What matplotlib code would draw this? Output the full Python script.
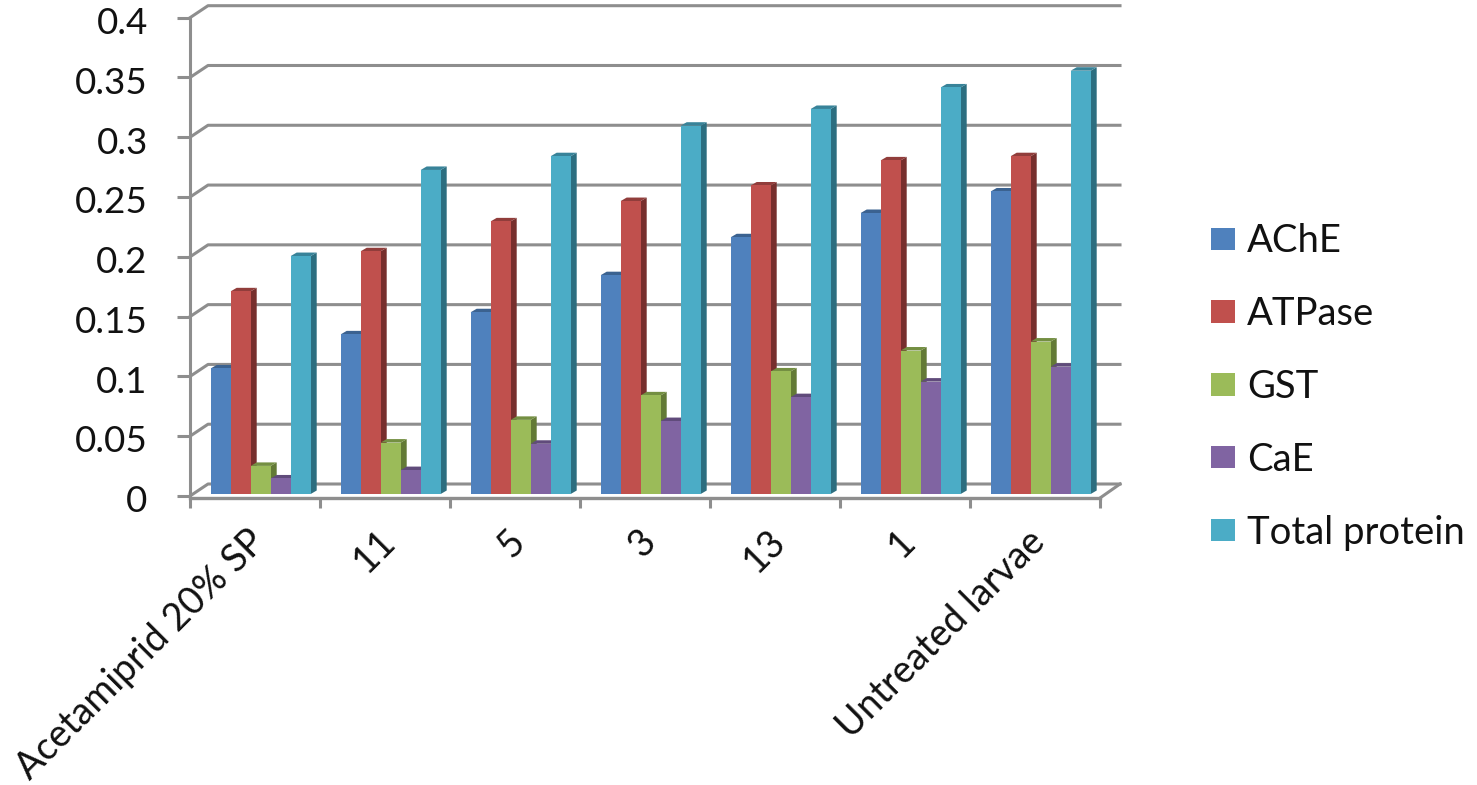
import matplotlib
matplotlib.use("Agg")
import matplotlib.pyplot as plt
from matplotlib.patches import Patch, Polygon
from matplotlib.ticker import FixedLocator
from matplotlib.transforms import ScaledTranslation

plt.rcParams["font.family"] = ["Lato", "DejaVu Sans"]

categories = ["Acetamiprid 20% SP", "11", "5", "3", "13", "1", "Untreated larvae"]
y_ticks = [0, 0.05, 0.1, 0.15, 0.2, 0.25, 0.3, 0.35, 0.4]
y_tick_labels = ["0", "0.05", "0.1", "0.15", "0.2", "0.25", "0.3", "0.35", "0.4"]

ache = [0.105, 0.1335, 0.152, 0.183, 0.2147, 0.235, 0.253]
atpase = [0.1695, 0.203, 0.228, 0.245, 0.258, 0.279, 0.2825]
gst = [0.0235, 0.043, 0.062, 0.0825, 0.1025, 0.12, 0.1275]
cae = [0.013, 0.02, 0.042, 0.061, 0.081, 0.094, 0.1065]
total_protein = [0.199, 0.271, 0.2825, 0.308, 0.322, 0.34, 0.354]

series_names = ["AChE", "ATPase", "GST", "CaE", "Total protein"]
series_values = [ache, atpase, gst, cae, total_protein]
front_colors = ["#4F81BD", "#C0504D", "#9BBB59", "#8064A2", "#4BACC6"]
side_colors = ["#2F4E73", "#772F2D", "#637A36", "#4E3D64", "#2C6E80"]
top_colors = ["#3B6290", "#913D3B", "#748F42", "#604B7B", "#388399"]

GRID = "#8E8E8E"
FIG_W, FIG_H = 1477, 785
LEFT, RIGHT, Y0, Y_TOP = 190, 1100, 496, 17.7

fig = plt.figure(figsize=(FIG_W / 100, FIG_H / 100), dpi=100)
ax = fig.add_axes([LEFT / FIG_W, 1 - Y0 / FIG_H, (RIGHT - LEFT) / FIG_W, (Y0 - Y_TOP) / FIG_H])
ax.set_xlim(0, len(categories))
ax.set_ylim(0, 0.4)
ax.patch.set_alpha(0)

# pixel sizes in data units, for the fake 3D look
px_x = len(categories) / (RIGHT - LEFT)
px_y = 0.4 / (Y0 - Y_TOP)
wall_dx, wall_dy = 18 * px_x, 12 * px_y
floor_drop = 2 * px_y

# back wall grid and the slanted bits on the left wall
for tick in y_ticks:
    ax.plot([0, wall_dx, len(categories) + wall_dx + 2 * px_x],
            [tick, tick + wall_dy, tick + wall_dy],
            color=GRID, lw=2.2, clip_on=False, zorder=1)

# floor
ax.plot([len(categories), len(categories) + wall_dx + 2 * px_x],
        [-floor_drop, wall_dy], color=GRID, lw=2.2, clip_on=False, zorder=1)

# bars
bar_w = 20 * px_x
depth_x, depth_y = 6 * px_x, 3.5 * px_y
group_start = 20.7 * px_x
base = 2 * px_y
for s, values in enumerate(series_values):
    for i, v in enumerate(values):
        x0 = i + group_start + s * bar_w
        x1 = x0 + bar_w
        top = v + base
        ax.add_patch(Polygon([(x1, base), (x1, top), (x1 + depth_x, top + depth_y), (x1 + depth_x, base + depth_y)],
                             facecolor=side_colors[s], edgecolor="none", zorder=3 + s, clip_on=False))
        ax.add_patch(Polygon([(x0, top), (x1, top), (x1 + depth_x, top + depth_y), (x0 + depth_x, top + depth_y)],
                             facecolor=top_colors[s], edgecolor="none", zorder=3 + s, clip_on=False))
    ax.bar([i + group_start + s * bar_w for i in range(len(values))], values, width=bar_w, bottom=base,
           align="edge", color=front_colors[s], zorder=3 + s, clip_on=False)

for name in ["top", "right"]:
    ax.spines[name].set_visible(False)
ax.spines["left"].set_color(GRID)
ax.spines["left"].set_linewidth(2.2)
ax.spines["bottom"].set_color(GRID)
ax.spines["bottom"].set_linewidth(2.4)
ax.spines["bottom"].set_position(("outward", 1.5))
ax.spines["bottom"].set_zorder(10)

ax.set_yticks(y_ticks)
ax.set_yticklabels(y_tick_labels)
ax.tick_params(axis="y", length=9.5, width=2.2, color=GRID, pad=21, labelsize=26.5, labelcolor="#111111")
for label in ax.get_yticklabels():
    label.set_transform(label.get_transform() + ScaledTranslation(0, -2 / 72, fig.dpi_scale_trans))

ax.set_xticks(range(len(categories) + 1))
ax.set_xticklabels([])
ax.tick_params(axis="x", which="major", length=7.5, width=2.2, color=GRID)
ax.xaxis.set_minor_locator(FixedLocator([i + 0.5 for i in range(len(categories))]))
ax.set_xticklabels(categories, minor=True, rotation=45, ha="right", rotation_mode="anchor",
                   fontsize=27, color="#111111")
ax.tick_params(axis="x", which="minor", length=0, pad=18)
for label in ax.get_xticklabels(minor=True):
    label.set_transform(label.get_transform() + ScaledTranslation(-8 / 100, 0, fig.dpi_scale_trans))

handles = [Patch(facecolor=c, edgecolor="none") for c in front_colors]
fig.legend(handles, series_names, loc="center left", bbox_to_anchor=(1211 / FIG_W, 1 - 387 / FIG_H),
           frameon=False, fontsize=27.5, labelspacing=0.965, handlelength=0.63, handleheight=0.52,
           handletextpad=0.31, labelcolor="#111111", borderpad=0, borderaxespad=0)

fig.savefig("out.png", dpi=100, facecolor="white")
